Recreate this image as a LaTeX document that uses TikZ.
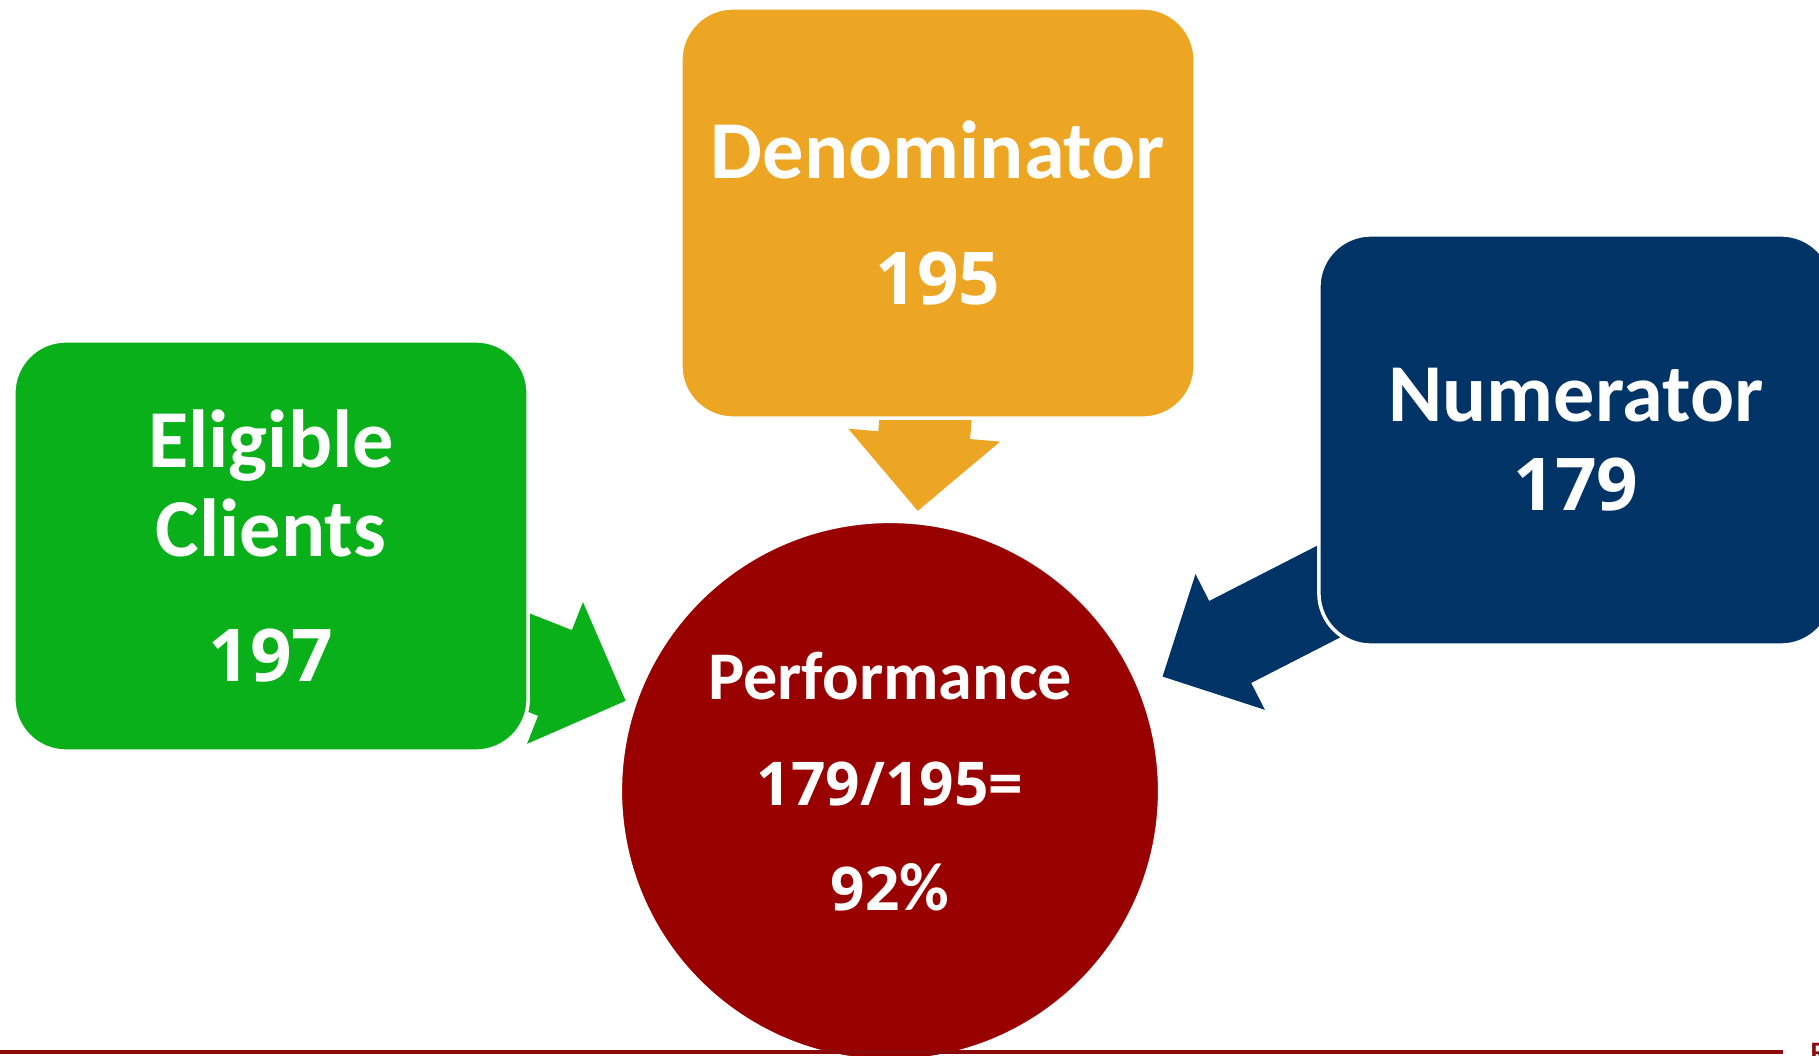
\documentclass[tikz,border=0pt]{standalone}
\usepackage{fontspec}
\setmainfont{Carlito}
\newfontfamily\digits{Open Sans}[Scale=0.885]
\usetikzlibrary{arrows.meta,backgrounds}
\definecolor{grn}{RGB}{9,176,26}
\definecolor{gold}{RGB}{236,166,36}
\definecolor{navy}{RGB}{0,51,102}
\definecolor{maroon}{RGB}{153,0,0}
\definecolor{rule}{RGB}{140,10,10}

\begin{document}
\begin{tikzpicture}[x=0.01cm,y=-0.01cm,
      box/.style={rounded corners=0.52cm,draw=white,line width=1pt,
        minimum width=5.14cm,minimum height=4.1cm,outer sep=0pt,
        align=center,text=white,
        font=\bfseries\fontsize{23.4}{25.3}\selectfont},
      ball/.style={circle,fill=maroon,draw=white,line width=1pt,
        minimum size=5.39cm,inner sep=0pt,outer sep=0pt,
        align=center,text=white,text depth=0.19cm,
        font=\bfseries\fontsize{19.4}{30}\selectfont},
      blk/.style={line width=26.2pt,
        -{Triangle[length=21.6pt,width=43.2pt,line width=0.8pt]}}
    ]
      \useasboundingbox (0,0) rectangle (1819,1055);

      \node[box,fill=grn](eli) at (271,546){Eligible\\Clients\\[10pt]{\digits 197}};
      \node[box,fill=gold](den) at (938,213){Denominator\\[10.5pt]{\digits 195}};
      \node[box,fill=navy](num) at (1576,440){Numerator\\{\digits 179}};
      \node[ball](perf) at (890,791){Performance\\{\digits 179/195=}\\{\digits 92}\%};

      % block arrows start behind the boxes
      \begin{scope}[on background layer]
        \draw[blk,grn,shorten >=2.84cm]
          ([yshift=-0.15cm]eli.center)--([yshift=-0.14cm]perf.center);
        \draw[blk,gold,shorten >=2.81cm]
          ([xshift=0.05cm]den.center)--([xshift=0.04cm]perf.center);
        \draw[blk,navy,shorten >=3.06cm]
          ([yshift=-0.25cm]num.center)--([yshift=-0.25cm]perf.center);
      \end{scope}

      % footer rule and cut-off logo letter
      \draw[rule,line width=1pt](0,1052)--(1783,1052);
      \node[rule,font=\bfseries\fontsize{8}{9}\selectfont,anchor=north west,
        inner sep=0pt](logo) at (1810,1043){R};
    \end{tikzpicture}
\end{document}
